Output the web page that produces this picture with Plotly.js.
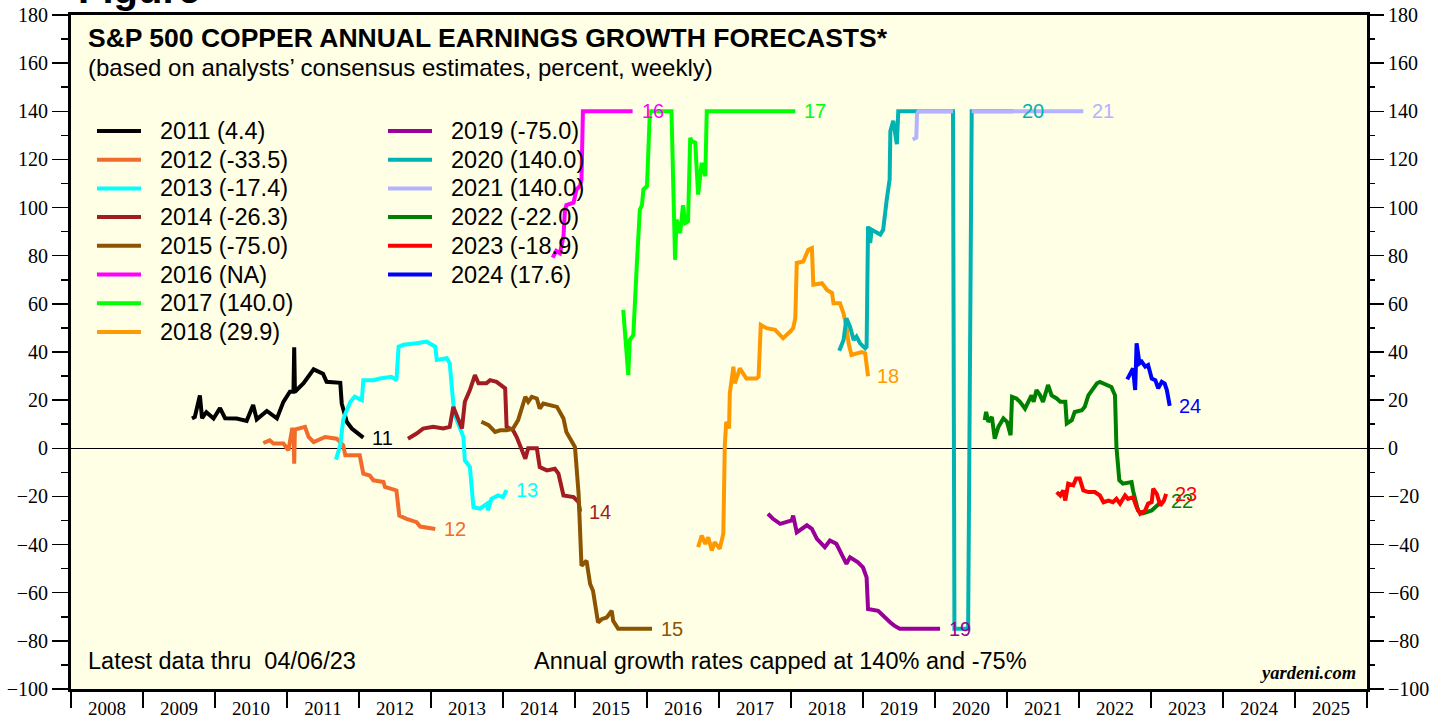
<!DOCTYPE html>
<html>
<head>
<meta charset="utf-8">
<script src="https://cdn.plot.ly/plotly-3.0.1.min.js"></script>
<style>
  body { margin: 0; background: #ffffff; }
  #chart { width: 1444px; height: 717px; }
</style>
</head>
<body>
<div id="chart"></div>
<script>
// weekly consensus forecasts (x = decimal year)
var x2011 = [2009.68, 2009.72, 2009.79, 2009.82, 2009.88, 2009.98, 2010.07, 2010.14, 2010.30, 2010.44, 2010.53, 2010.58, 2010.72, 2010.86, 2010.95, 2011.04, 2011.09, 2011.10, 2011.11, 2011.23, 2011.37, 2011.50, 2011.55, 2011.74, 2011.76, 2011.83, 2011.90, 2012.06];
var y2011 = [12.4, 13, 22, 12.5, 15, 12.4, 16.7, 12.5, 12.4, 11.4, 18, 12, 15.5, 12.4, 19.3, 23.5, 23.5, 42, 23.5, 27, 32.8, 31, 27.6, 27.2, 18.6, 11, 8.2, 4.4];

var x2012 = [2010.67, 2010.76, 2010.81, 2010.95, 2011.02, 2011.07, 2011.09, 2011.10, 2011.11, 2011.25, 2011.30, 2011.37, 2011.53, 2011.69, 2011.78, 2011.81, 2012.01, 2012.06, 2012.15, 2012.20, 2012.34, 2012.36, 2012.52, 2012.56, 2012.66, 2012.80, 2012.85, 2013.06];
var y2012 = [2.2, 3.3, 2, 2, -0.8, 7.8, 7.8, -6.4, 7.8, 8.9, 4.7, 2.6, 4.7, 4, 1.3, -2.9, -2.9, -10.5, -11.3, -13.3, -14, -16, -17.5, -28, -29.3, -30.7, -32.5, -33.5];

var x2013 = [2011.68, 2011.74, 2011.78, 2011.81, 2011.88, 2011.94, 2012.04, 2012.06, 2012.20, 2012.29, 2012.45, 2012.52, 2012.55, 2012.62, 2012.80, 2012.94, 2013.06, 2013.08, 2013.22, 2013.26, 2013.31, 2013.33, 2013.45, 2013.47, 2013.54, 2013.59, 2013.68, 2013.78, 2013.79, 2013.84, 2013.93, 2014.00, 2014.05];
var y2013 = [-4.7, 1.3, 11.7, 14.4, 19.3, 21.4, 20, 28.3, 28.3, 29, 29.7, 28.3, 42.2, 43, 43.6, 44.3, 42.2, 36.7, 37.4, 35.3, 18.6, 13.8, 4.7, -5, -7.8, -24.5, -25.1, -23, -25.8, -21, -19.6, -20.3, -17.4];

var x2014 = [2012.68, 2012.80, 2012.89, 2013.03, 2013.17, 2013.26, 2013.31, 2013.36, 2013.43, 2013.47, 2013.54, 2013.61, 2013.66, 2013.77, 2013.82, 2013.91, 2014.03, 2014.05, 2014.14, 2014.19, 2014.26, 2014.31, 2014.35, 2014.47, 2014.51, 2014.61, 2014.72, 2014.77, 2014.84, 2014.98, 2015.05, 2015.07];
var y2014 = [4, 6.1, 8.2, 8.9, 8.2, 8.9, 17.2, 13, 8.2, 19.3, 24.2, 30.4, 27, 27, 28.3, 27.6, 24.9, 8.9, 7.5, 4.7, -0.1, -4.3, 0, 0, -7.8, -9.2, -8.5, -10.5, -19.6, -20.3, -22.4, -26.3];

var x2015 = [2013.70, 2013.80, 2013.89, 2013.96, 2014.05, 2014.14, 2014.21, 2014.28, 2014.31, 2014.35, 2014.40, 2014.47, 2014.51, 2014.56, 2014.75, 2014.84, 2014.88, 2015.00, 2015.05, 2015.09, 2015.16, 2015.21, 2015.25, 2015.32, 2015.37, 2015.44, 2015.51, 2015.53, 2015.58, 2015.60, 2016.07];
var y2015 = [11, 9.6, 6.8, 7.5, 7.5, 8.2, 11.7, 18.6, 21.4, 19.3, 21.4, 20.7, 16.5, 18.6, 17.2, 12.4, 6.8, 0.5, -18.9, -48.8, -46.7, -56.4, -59.2, -72.4, -71, -70.3, -67.5, -71.7, -74.5, -75, -75];

var x2016 = [2014.69, 2014.74, 2014.79, 2014.84, 2014.86, 2014.88, 2014.98, 2015.02, 2015.07, 2015.09, 2015.11, 2015.80];
var y2016 = [79.2, 82, 81, 88, 99, 101, 102, 107.5, 109, 111.7, 140, 140];

var x2017 = [2015.67, 2015.74, 2015.76, 2015.81, 2015.86, 2015.90, 2015.93, 2015.95, 2016.00, 2016.04, 2016.34, 2016.39, 2016.41, 2016.46, 2016.50, 2016.53, 2016.57, 2016.60, 2016.62, 2016.67, 2016.71, 2016.76, 2016.81, 2016.83, 2018.06];
var y2017 = [57.5, 30.4, 45, 47, 77, 99, 101, 107.5, 109, 140, 140, 78.3, 95, 89.4, 101, 93.6, 94.3, 129, 127.6, 127, 105.4, 118.6, 113, 140, 140];

var x2018 = [2016.71, 2016.76, 2016.81, 2016.85, 2016.90, 2016.94, 2017.01, 2017.06, 2017.08, 2017.10, 2017.14, 2017.15, 2017.20, 2017.22, 2017.29, 2017.38, 2017.52, 2017.55, 2017.58, 2017.66, 2017.78, 2017.89, 2017.99, 2018.03, 2018.06, 2018.08, 2018.17, 2018.24, 2018.29, 2018.31, 2018.43, 2018.50, 2018.57, 2018.59, 2018.68, 2018.73, 2018.77, 2018.80, 2018.84, 2018.98, 2019.03, 2019.07];
var y2018 = [-41.1, -36.3, -39.7, -37, -42.5, -39, -41.8, -35.5, 0.5, 11, 8.2, 22.8, 33.9, 27, 33.2, 29, 29, 29.7, 51.3, 49.9, 49.2, 45.7, 48.5, 49.9, 54, 77, 77.6, 82.5, 83.2, 68, 68.6, 65.8, 64.5, 60.3, 60.3, 56, 50.5, 43.6, 38.8, 40, 39.5, 29.9];

var x2019 = [2017.68, 2017.75, 2017.85, 2018.01, 2018.03, 2018.08, 2018.22, 2018.29, 2018.36, 2018.47, 2018.54, 2018.63, 2018.77, 2018.82, 2018.93, 2019.00, 2019.05, 2019.07, 2019.21, 2019.28, 2019.38, 2019.44, 2019.51, 2020.07];
var y2019 = [-27.2, -29.3, -31.4, -30, -28, -34.9, -32, -33.5, -37.6, -41.1, -38.3, -39.7, -48, -45.3, -47.4, -49.5, -53.6, -66.8, -67.5, -69.6, -72.4, -73.8, -75, -75];

var x2020 = [2018.67, 2018.73, 2018.77, 2018.82, 2018.87, 2018.91, 2018.96, 2019.03, 2019.05, 2019.07, 2019.10, 2019.12, 2019.24, 2019.28, 2019.33, 2019.37, 2019.38, 2019.42, 2019.47, 2019.49, 2020.25, 2020.27, 2020.46, 2020.51, 2021.09];
var y2020 = [40.5, 45, 54, 50.5, 45, 46.4, 43.6, 41.5, 42.2, 92.2, 85.3, 90.8, 88.8, 90.8, 103.3, 111.7, 131.8, 136, 126.3, 140, 140, -75, -75, 140, 140];

var x2021 = [2019.69, 2019.74, 2019.75, 2019.77, 2020.25, 2020.38, 2020.51, 2022.06];
var y2021 = [128.3, 129, 138.8, 140, 140, null, 140, 140];

var x2022 = [2020.69, 2020.71, 2020.74, 2020.79, 2020.83, 2020.88, 2020.95, 2021.00, 2021.05, 2021.07, 2021.13, 2021.18, 2021.25, 2021.30, 2021.34, 2021.37, 2021.41, 2021.46, 2021.50, 2021.57, 2021.62, 2021.69, 2021.74, 2021.81, 2021.83, 2021.90, 2021.94, 2022.04, 2022.08, 2022.13, 2022.18, 2022.25, 2022.29, 2022.38, 2022.45, 2022.50, 2022.52, 2022.56, 2022.61, 2022.73, 2022.75, 2022.82, 2022.89, 2023.01, 2023.08, 2023.15];
var y2022 = [11.7, 15.1, 11, 13, 4, 8.9, 12.4, 11, 5.4, 21.4, 20.7, 19.3, 16.5, 20, 22, 19.3, 24.2, 22, 19.3, 26.3, 22, 20.7, 19.3, 19.3, 10.3, 11.7, 15.1, 15.8, 17.2, 22, 24.2, 27, 27.6, 26.3, 25.5, 22, 0.5, -13.3, -14.7, -14, -17.5, -25.8, -27, -25.8, -23.8, -22.0];

var x2023 = [2021.69, 2021.74, 2021.78, 2021.81, 2021.85, 2021.92, 2021.96, 2022.01, 2022.06, 2022.13, 2022.22, 2022.29, 2022.34, 2022.41, 2022.47, 2022.52, 2022.57, 2022.64, 2022.68, 2022.75, 2022.80, 2022.85, 2022.92, 2022.96, 2023.01, 2023.03, 2023.08, 2023.13, 2023.18, 2023.21];
var y2023 = [-18.2, -19.6, -17.5, -21.7, -14.7, -15.4, -12.6, -12.6, -17.5, -18.2, -18.2, -19.6, -22.4, -21.7, -22.4, -21, -23, -19.6, -21, -20.3, -24.5, -27.2, -25.8, -23, -22.4, -16.8, -18.9, -23.8, -21.7, -18.9];

var x2024 = [2022.67, 2022.71, 2022.75, 2022.78, 2022.80, 2022.84, 2022.87, 2022.92, 2022.96, 2023.01, 2023.06, 2023.10, 2023.15, 2023.19, 2023.22, 2023.26];
var y2024 = [28.6, 31.1, 33.2, 24.2, 43.6, 35.3, 36, 33.9, 34.6, 29, 28.3, 24.9, 27.6, 26.9, 24.2, 17.6];

var years = ["2011", "2012", "2013", "2014", "2015", "2016", "2017", "2018", "2019", "2020", "2021", "2022", "2023", "2024"];
var latest = ["4.4", "-33.5", "-17.4", "-26.3", "-75.0", "NA", "140.0", "29.9", "-75.0", "140.0", "140.0", "-22.0", "-18.9", "17.6"];
var xs = [x2011, x2012, x2013, x2014, x2015, x2016, x2017, x2018, x2019, x2020, x2021, x2022, x2023, x2024];
var ys = [y2011, y2012, y2013, y2014, y2015, y2016, y2017, y2018, y2019, y2020, y2021, y2022, y2023, y2024];
var colors = ["#000000", "#F26B2A", "#00FFFF", "#A11D21", "#8C5400", "#FF00FF", "#00FF00", "#FF9900",
              "#990099", "#00B2B2", "#B3B3FF", "#008000", "#FF0000", "#0000FF"];

var axisYears = [];
for (var yr = 2008; yr <= 2025; yr++) axisYears.push(yr);

// pixel helpers for the decorations
function px(x) { return (x - 71) / 1296; }
function py(y) { return (689 - y) / 674; }

var serif = "Liberation Serif";
var sans = "Liberation Sans";

var data = [];
var annotations = [];
var shapes = [];

for (var i = 0; i < years.length; i++) {
  data.push({
    x: xs[i],
    y: ys[i],
    type: "scatter",
    mode: "lines",
    name: years[i],
    line: {color: colors[i], width: 4},
    connectgaps: false,
    showlegend: false
  });
  // short year tag at the end of each line
  var n = xs[i].length - 1;
  annotations.push({
    x: xs[i][n], y: ys[i][n], xref: "x", yref: "y",
    text: years[i].slice(2), showarrow: false,
    xanchor: "left", yanchor: "middle", xshift: 7,
    font: {family: sans, size: 20, color: colors[i]}
  });
}

// dummy trace so the right-hand axis gets drawn
data.push({x: [2008], y: [0], yaxis: "y2", mode: "markers", marker: {opacity: 0}, showlegend: false, hoverinfo: "skip"});

// two-column legend
for (var j = 0; j < years.length; j++) {
  var col = j < 8 ? 0 : 1;
  var row = col == 0 ? j : j - 8;
  var rowY = 131 + row * 28.7;
  var lx0 = col == 0 ? 97 : 388;
  shapes.push({
    type: "line", xref: "paper", yref: "paper",
    x0: px(lx0), x1: px(lx0 + 44), y0: py(rowY), y1: py(rowY),
    line: {color: colors[j], width: 4}
  });
  annotations.push({
    x: px(lx0 + 61), y: py(rowY), xref: "paper", yref: "paper",
    text: years[j] + " (" + latest[j] + ")", showarrow: false,
    xanchor: "left", yanchor: "middle",
    font: {family: sans, size: 23.5, color: "#000000"}
  });
}

annotations.push(
  // figure caption, mostly cropped off the top of the image
  {x: px(76), y: py(-11), xref: "paper", yref: "paper", xanchor: "left", yanchor: "middle", showarrow: false,
   text: "<b>Figure</b>",
   font: {family: sans, size: 40, color: "#000000"}},
  {x: px(86), y: py(38), xref: "paper", yref: "paper", xanchor: "left", yanchor: "middle", showarrow: false,
   text: "<b>S&P 500 COPPER ANNUAL EARNINGS GROWTH FORECASTS*</b>",
   font: {family: sans, size: 26.5, color: "#000000"}},
  {x: px(86), y: py(67), xref: "paper", yref: "paper", xanchor: "left", yanchor: "middle", showarrow: false,
   text: "(based on analysts’ consensus estimates, percent, weekly)",
   font: {family: sans, size: 24, color: "#000000"}},
  {x: px(86), y: py(661), xref: "paper", yref: "paper", xanchor: "left", yanchor: "middle", showarrow: false,
   text: "Latest data thru  04/06/23",
   font: {family: sans, size: 23.5, color: "#000000"}},
  {x: px(532), y: py(661), xref: "paper", yref: "paper", xanchor: "left", yanchor: "middle", showarrow: false,
   text: "Annual growth rates capped at 140% and -75%",
   font: {family: sans, size: 23.5, color: "#000000"}},
  {x: px(1358), y: py(673), xref: "paper", yref: "paper", xanchor: "right", yanchor: "middle", showarrow: false,
   text: "<b><i>yardeni.com</i></b>",
   font: {family: serif, size: 18.5, color: "#000000"}}
);

var yTicks = {
  range: [-100, 180], autorange: false, fixedrange: true,
  tickmode: "linear", tick0: 0, dtick: 20,
  ticks: "outside", ticklen: 16, tickwidth: 1.5, tickcolor: "#000000",
  minor: {tickmode: "linear", tick0: 0, dtick: 10, ticks: "outside", ticklen: 7, tickwidth: 1.5, tickcolor: "#000000"},
  tickfont: {family: serif, size: 20, color: "#000000"},
  showgrid: false
};

var layout = {
  width: 1444, height: 717,
  margin: {l: 71, r: 77, t: 15, b: 28, pad: 0},
  paper_bgcolor: "#ffffff",
  plot_bgcolor: "#FFFFE6",
  showlegend: false,
  xaxis: {
    range: [2008, 2026], autorange: false, fixedrange: true,
    tickmode: "array",
    tickvals: axisYears.map(function (y) { return y + 0.5; }),
    ticktext: axisYears.map(String),
    ticks: "", ticklabelstandoff: 0,
    minor: {tickmode: "linear", tick0: 2008, dtick: 1, ticks: "outside", ticklen: 16, tickwidth: 2, tickcolor: "#000000"},
    tickfont: {family: serif, size: 19, color: "#000000"},
    showgrid: false, zeroline: false,
    showline: true, linewidth: 3, linecolor: "#000000", mirror: true
  },
  yaxis: Object.assign({}, yTicks, {
    side: "left", showline: true, linewidth: 3, linecolor: "#000000", mirror: true,
    zeroline: true, zerolinecolor: "#000000", zerolinewidth: 1
  }),
  yaxis2: Object.assign({}, yTicks, {
    overlaying: "y", side: "right", anchor: "x", showline: false, zeroline: false
  }),
  annotations: annotations,
  shapes: shapes
};

Plotly.newPlot("chart", data, layout, {displayModeBar: false, staticPlot: true});
</script>
</body>
</html>
